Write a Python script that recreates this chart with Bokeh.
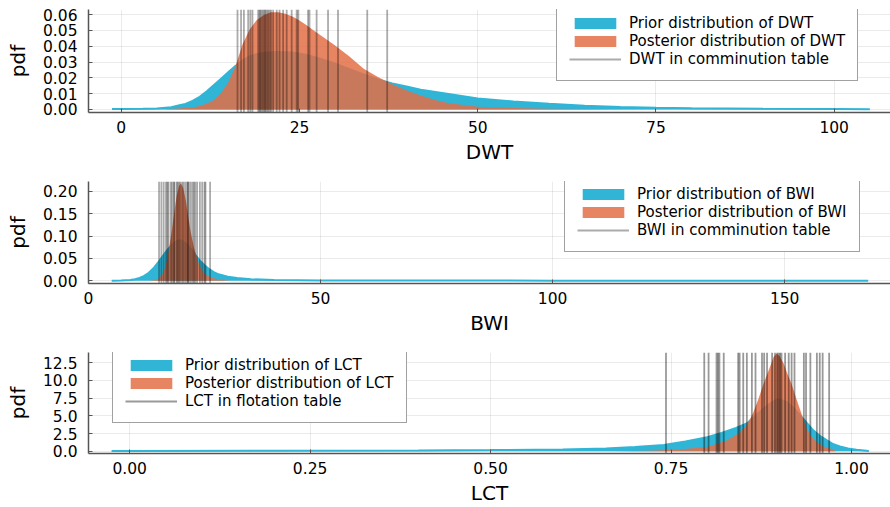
from bokeh.plotting import figure
from bokeh.models import FixedTicker, NumeralTickFormatter, Range1d
from bokeh.layouts import column
from bokeh.embed import file_html
from bokeh.resources import INLINE

# ---------------- DWT ----------------
dwt_prior_x = [-1.3, 0, 3, 5, 7, 8, 9, 10, 11, 12, 13, 14, 15, 16, 17, 18, 19, 20, 22, 24, 26, 28, 30, 32,
               34, 36, 38, 40, 42, 45, 50, 55, 60, 65, 70, 75, 80, 90, 100, 105]
dwt_prior_y = [0.0003, 0.0003, 0.0004, 0.0006, 0.0015, 0.0025, 0.0035, 0.0055, 0.008, 0.0115, 0.0155, 0.0195,
               0.0235, 0.0275, 0.031, 0.0335, 0.035, 0.0358, 0.0363, 0.036, 0.0345, 0.032, 0.029, 0.0255,
               0.0222, 0.019, 0.0165, 0.0145, 0.0125, 0.0105, 0.007, 0.005, 0.0036, 0.0024, 0.0016, 0.0011,
               0.0008, 0.0005, 0.0003, 0.0002]
dwt_post_x = [5, 6, 8, 10, 11, 12, 13, 14, 15, 16, 17, 18, 19, 20, 21, 22, 23, 24, 25, 26, 27, 28, 30, 32,
              34, 36, 38, 40, 42, 44, 46, 50, 55, 60, 70, 86]
dwt_post_y = [0.0, 0.0002, 0.0006, 0.0013, 0.0022, 0.0038, 0.006, 0.0105, 0.017, 0.027, 0.041, 0.0505,
              0.0565, 0.0598, 0.0614, 0.0615, 0.0605, 0.0588, 0.0562, 0.0532, 0.0500, 0.0467, 0.0405, 0.0335,
              0.0258, 0.0205, 0.016, 0.0122, 0.0088, 0.006, 0.004, 0.0018, 0.0009, 0.0005, 0.0002, 0.0]
dwt_obs = [16.3, 16.8, 17.2, 17.8, 18.1, 18.4, 19.2, 19.4, 19.5, 19.7, 19.9, 20.1, 20.2, 20.4, 20.6, 20.8,
           21.0, 21.3, 21.8, 22.2, 22.7, 23.2, 23.9, 24.6, 24.8, 26.2, 26.4, 27.4, 29.0, 30.4, 34.5, 37.3]

# ---------------- BWI ----------------
bwi_prior_x = [5, 7, 9, 10, 11, 12, 13, 14, 15, 16, 17, 18, 19, 20, 21, 22, 23, 24, 25, 26, 27, 28, 30, 32,
               35, 40, 50, 70, 100, 130, 168]
bwi_prior_y = [0.0003, 0.0006, 0.002, 0.0035, 0.0065, 0.011, 0.018, 0.028, 0.041, 0.055, 0.069, 0.081, 0.089,
               0.0905, 0.084, 0.072, 0.058, 0.045, 0.035, 0.026, 0.0195, 0.0145, 0.009, 0.0062, 0.0035,
               0.0016, 0.0009, 0.0006, 0.0004, 0.0003, 0.0002]
bwi_post_x = [13, 14, 15, 16, 16.5, 17, 17.5, 18, 18.5, 19, 19.5, 19.9, 20.4, 21, 21.5, 22, 22.7, 23.5, 24.1,
              25, 26.3, 28, 30.6]
bwi_post_y = [0.0, 0.001, 0.004, 0.015, 0.03, 0.05, 0.082, 0.115, 0.155, 0.19, 0.212, 0.218, 0.208, 0.178,
              0.142, 0.11, 0.075, 0.047, 0.03, 0.016, 0.008, 0.003, 0.0]
bwi_obs = [15.2, 15.7, 16.2, 16.7, 17.0, 17.2, 17.7, 18.0, 18.4, 18.5, 19.0, 19.2, 19.5, 19.8, 20.2, 20.5,
           20.9, 21.3, 21.4, 21.6, 22.0, 22.4, 22.7, 23.0, 23.4, 24.0, 24.5, 25.0, 25.2, 26.2]

# ---------------- LCT ----------------
lct_prior_x = [-0.025, 0.0, 0.2, 0.4, 0.5, 0.6, 0.66, 0.7, 0.74, 0.77, 0.8, 0.82, 0.84, 0.855, 0.87, 0.885,
               0.897, 0.91, 0.92, 0.929, 0.938, 0.947, 0.956, 0.966, 0.975, 0.984, 0.995, 1.007, 1.024]
lct_prior_y = [0.05, 0.06, 0.08, 0.12, 0.18, 0.28, 0.4, 0.6, 0.9, 1.4, 2.0, 2.6, 3.3, 3.95, 5.3, 6.6, 7.35,
               7.0, 6.1, 5.07, 4.0, 2.96, 2.2, 1.55, 1.0, 0.7, 0.42, 0.24, 0.05]
lct_post_x = [0.67, 0.72, 0.76, 0.8, 0.827, 0.846, 0.856, 0.864, 0.871, 0.878, 0.888, 0.892, 0.896, 0.9,
              0.906, 0.911, 0.917, 0.923, 0.929, 0.938, 0.945, 0.952, 0.963, 0.975, 0.978]
lct_post_y = [0.0, 0.1, 0.25, 0.6, 1.55, 2.7, 3.9, 5.5, 7.4, 9.5, 12.2, 13.3, 13.77, 13.5, 12.4, 11.0, 9.5,
              7.6, 5.8, 3.2, 2.0, 1.3, 0.6, 0.25, 0.0]
lct_obs = [0.743, 0.796, 0.802, 0.813, 0.815, 0.817, 0.823, 0.843, 0.845, 0.850, 0.855, 0.862, 0.867, 0.876,
           0.879, 0.883, 0.890, 0.894, 0.897, 0.899, 0.901, 0.903, 0.908, 0.913, 0.917, 0.921, 0.934, 0.937,
           0.943, 0.952, 0.956, 0.960, 0.969]

PRIOR = "#30B5D6"
POST = "#E36F47"
FONT = "DejaVu Sans"


def panel(name, table, xr, yr, xticks, yticks, xfmt, yfmt, px, py, qx, qy, obs, loc,
          height, top, bottom, obs_alpha):
    p = figure(width=890, height=height, x_range=Range1d(*xr), y_range=Range1d(*yr),
               output_backend="svg", toolbar_location=None,
               min_border_left=88, min_border_right=0, min_border_top=top, min_border_bottom=bottom)
    p.outline_line_color = None
    p.background_fill_color = "white"

    p.varea(x=px, y1=0, y2=py, fill_color=PRIOR, fill_alpha=1.0,
            legend_label=f"Prior distribution of {name}")
    p.line(x=px, y=py, line_color=PRIOR, line_width=2)
    p.varea(x=qx, y1=0, y2=qy, fill_color=POST, fill_alpha=0.85,
            legend_label=f"Posterior distribution of {name}")
    p.segment(x0=obs, y0=[yr[0]] * len(obs), x1=obs, y1=[yr[1]] * len(obs),
              line_color="black", line_alpha=obs_alpha, line_width=1.8,
              legend_label=f"{name} in {table} table")

    for ax, ticks, fmt in ((p.xaxis[0], xticks, xfmt), (p.yaxis[0], yticks, yfmt)):
        ax.ticker = FixedTicker(ticks=ticks)
        ax.formatter = NumeralTickFormatter(format=fmt)
        ax.minor_tick_line_color = None
        ax.major_tick_in = 4
        ax.major_tick_out = 0
        ax.axis_line_color = "#555555"
        ax.axis_line_width = 1.5
        ax.major_tick_line_color = "#555555"
        ax.major_label_text_font = FONT
        ax.major_label_text_font_size = "15.5px"
        ax.major_label_text_color = "black"
        ax.axis_label_text_font = FONT
        ax.axis_label_text_font_style = "normal"
        ax.axis_label_text_font_size = "20px"
        ax.axis_label_text_color = "black"
    p.xaxis.axis_label = name
    p.yaxis.axis_label = "pdf"
    p.xaxis.major_label_standoff = 8
    p.xaxis.axis_label_standoff = 4
    p.yaxis.major_label_standoff = 11
    p.yaxis.axis_label_standoff = 10

    for g in (p.xgrid, p.ygrid):
        g.grid_line_color = "black"
        g.grid_line_alpha = 0.08

    lg = p.legend[0]
    lg.location = loc
    lg.label_text_font = FONT
    lg.label_text_font_size = "15px"
    lg.label_text_color = "black"
    lg.glyph_width = 52
    lg.glyph_height = 14
    lg.label_height = 15
    lg.label_standoff = 8
    lg.spacing = -2
    lg.padding = 12
    lg.margin = 0
    lg.border_line_color = "#444444"
    lg.border_line_width = 1.5
    lg.background_fill_alpha = 1.0
    return p


p1 = panel("DWT", "comminution", (-4.6, 107.9), (-0.0019, 0.0632), [0, 25, 50, 75, 100],
           [0, 0.01, 0.02, 0.03, 0.04, 0.05, 0.06], "0", "0.00",
           dwt_prior_x, dwt_prior_y, dwt_post_x, dwt_post_y, dwt_obs, (468, 31),
           168, 9, 56, 0.33)
p2 = panel("BWI", "comminution", (0, 172.8), (-0.006, 0.222), [0, 50, 100, 150],
           [0, 0.05, 0.1, 0.15, 0.2], "0", "0.00",
           bwi_prior_x, bwi_prior_y, bwi_post_x, bwi_post_y, bwi_obs, (476, 31),
           172, 13, 57, 0.33)
p3 = panel("LCT", "flotation", (-0.057, 1.054), (-0.3, 13.95), [0, 0.25, 0.5, 0.75, 1.0],
           [0, 2.5, 5, 7.5, 10, 12.5], "0.00", "0.0",
           lct_prior_x, lct_prior_y, lct_post_x, lct_post_y, lct_obs, (24, 30),
           167, 12, 54, 0.4)

layout = column(p1, p2, p3, spacing=0)
open("out.html", "w").write(file_html(layout, INLINE))
